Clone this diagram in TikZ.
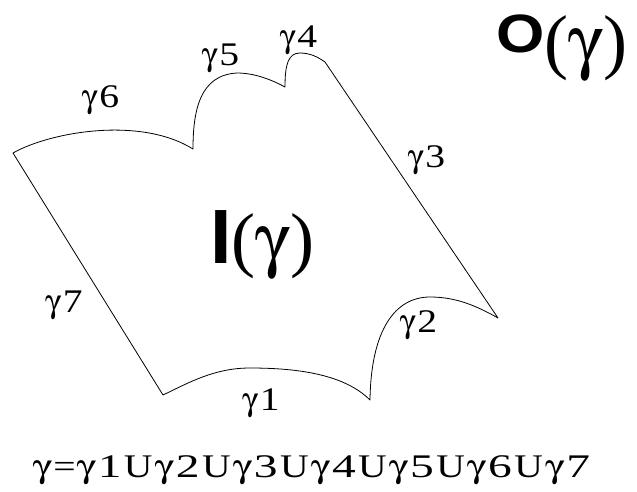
\documentclass[tikz,border=0pt]{standalone}
\usepackage[Symbol]{upgreek}
\usepackage{fontspec}
\setmainfont{Liberation Serif}
\newfontfamily\boldsans{Liberation Sans Bold}
\newcommand{\mygam}{\ensuremath{\upgamma}}
\newcommand{\dg}[1]{\scalebox{1.2}[1]{#1}}
\newcommand{\gl}[1]{\mygam\kern1.5pt\dg{#1}}
\tikzset{
  edge/.style={draw=black, line width=0.8pt, line join=round},
  lbl/.style={anchor=base, inner sep=0pt, font=\fontsize{33}{33}\selectfont},
  big/.style={anchor=base west, inner sep=0pt},
}
\begin{document}
\begin{tikzpicture}[x=1pt,y=-1pt]
\useasboundingbox (0,0) rectangle (637,491);
\coordinate (A) at (13,153);
\coordinate (B) at (193,149);
\coordinate (C) at (285,87);
\coordinate (D) at (325,62);
\coordinate (E) at (498,318);
\coordinate (F) at (370,400);
\coordinate (G) at (163,395);
\draw[edge] (A) .. controls (50,132) and (140,116) .. (B)
  .. controls (193,110) and (200,75) .. (237,73)
  .. controls (255,73) and (272,80) .. (C)
  .. controls (285,65) and (288,53) .. (300,53)
  .. controls (310,53) and (318,57) .. (D)
  -- (E)
  .. controls (475,305) and (455,297) .. (430,297)
  .. controls (395,297) and (371,330) .. (F)
  .. controls (345,375) and (300,368) .. (250,368)
  .. controls (215,368) and (190,382) .. (G)
  -- cycle;
\node[lbl] (g6) at (100.5,107) {\gl{6}};
\node[lbl] (g5) at (220.5,65) {\gl{5}};
\node[lbl] (g4) at (298.5,47) {\gl{4}};
\node[lbl] (g3) at (426.5,167) {\gl{3}};
\node[lbl] (g2) at (418.5,332) {\gl{2}};
\node[lbl] (g1) at (261,410) {\gl{1}};
\node[lbl] (g7) at (64,312) {\gl{7}};
\node[big] (inner) at (210,263) {{\fontsize{77}{77}\boldsans I}{\fontsize{72}{72}\selectfont(\mygam)}};
\node[big] (outer) at (496,65.5) {\raisebox{0pt}[50pt][14pt]{\raisebox{13pt}{\scalebox{1.15}[1]{\fontsize{54}{54}\boldsans O}}{\fontsize{72}{72}\selectfont(\mygam)}}};
\node[lbl] (formula) at (311.5,477) {\resizebox{557pt}{\height}{\mygam\kern1pt=\kern1pt\gl{1}\kern2pt U\kern2pt\gl{2}\kern2pt U\kern2pt\gl{3}\kern2pt U\kern2pt\gl{4}\kern2pt U\kern2pt\gl{5}\kern2pt U\kern2pt\gl{6}\kern2pt U\kern2pt\gl{7}}};
\end{tikzpicture}
\end{document}
